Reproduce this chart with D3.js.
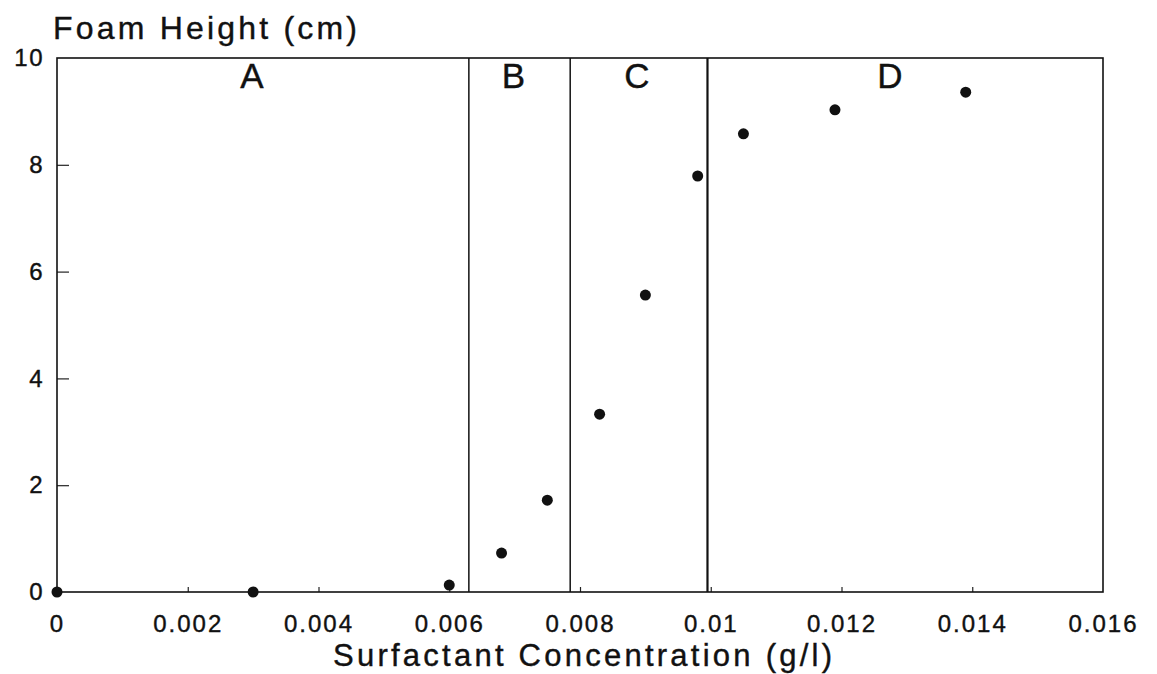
<!DOCTYPE html>
<html>
<head>
<meta charset="utf-8">
<script src="https://cdn.jsdelivr.net/npm/d3@7"></script>
<style>
  html, body { margin: 0; padding: 0; background: #fff; }
  text { font-family: "Liberation Sans", Arial, Helvetica, sans-serif; fill: #111; stroke: #111; stroke-width: 0.4; }
</style>
</head>
<body>
<div id="viz-container"></div>
<script>
// values
const concentration = [0, 0.003, 0.006, 0.0068, 0.0075, 0.0083, 0.009, 0.0098, 0.0105, 0.0119, 0.0139];
const foamHeight = [0, 0, 0.13, 0.73, 1.72, 3.33, 5.56, 7.79, 8.58, 9.03, 9.36];
const regionBounds = [0.0063, 0.00785, 0.00995];
const regionLabels = ['A', 'B', 'C', 'D'];
const regionLabelPos = [0.00298, 0.00698, 0.00887, 0.01274];
const xTicks = [0, 0.002, 0.004, 0.006, 0.008, 0.01, 0.012, 0.014, 0.016];
const xTickLabels = ['0', '0.002', '0.004', '0.006', '0.008', '0.01', '0.012', '0.014', '0.016'];
const yTicks = [0, 2, 4, 6, 8, 10];

// set the dimensions and margins of the graph
const margin = {top: 58, right: 54, bottom: 82, left: 57};
const width = 1157 - margin.left - margin.right;
const height = 674 - margin.top - margin.bottom;

const svg = d3.select('#viz-container')
  .append('svg')
  .attr('width', 1157)
  .attr('height', 674)
  .append('g')
  .attr('transform', `translate(${margin.left},${margin.top})`);

const x = d3.scaleLinear().domain([0, 0.016]).range([0, width]);
const y = d3.scaleLinear().domain([0, 10]).range([height, 0]);

// x axis: short inward ticks, labels below
const xAxis = svg.append('g')
  .attr('transform', `translate(0,${height})`)
  .call(d3.axisBottom(x).tickValues(xTicks).tickSizeInner(-5).tickSizeOuter(0)
    .tickPadding(23).tickFormat((d, i) => xTickLabels[i]));
xAxis.select('.domain').remove();
xAxis.selectAll('line').attr('stroke', '#222').attr('stroke-width', 1.2)
  .filter(d => d === 0 || d === 0.016).remove();
xAxis.selectAll('text')
  .attr('font-size', 24)
  .attr('letter-spacing', 2)
  .style('font-family', '"Liberation Sans", Arial, sans-serif');

// y axis: inward ticks, labels on the left
const yAxis = svg.append('g')
  .call(d3.axisLeft(y).tickValues(yTicks).tickSizeInner(-12).tickSizeOuter(0)
    .tickPadding(13).tickFormat(d3.format('d')));
yAxis.select('.domain').remove();
yAxis.selectAll('line').attr('stroke', '#222').attr('stroke-width', 1.2)
  .filter(d => d === 0 || d === 10).remove();
yAxis.selectAll('text')
  .attr('font-size', 24)
  .attr('letter-spacing', 1.5)
  .style('font-family', '"Liberation Sans", Arial, sans-serif');

// frame
svg.append('rect')
  .attr('x', 0)
  .attr('y', 0)
  .attr('width', width)
  .attr('height', height)
  .attr('fill', 'none')
  .attr('stroke', '#111')
  .attr('stroke-width', 1.6);

// region boundaries
svg.selectAll('.bound')
  .data(regionBounds)
  .join('line')
  .attr('class', 'bound')
  .attr('x1', d => x(d))
  .attr('x2', d => x(d))
  .attr('y1', 0)
  .attr('y2', height)
  .attr('stroke', '#111')
  .attr('stroke-width', (d, i) => i === 2 ? 2.2 : 1.5);

// region letters
svg.selectAll('.region')
  .data(regionLabels)
  .join('text')
  .attr('class', 'region')
  .attr('x', (d, i) => x(regionLabelPos[i]))
  .attr('y', 30)
  .attr('text-anchor', 'middle')
  .attr('font-size', 35)
  .text(d => d);

// data points
svg.selectAll('.pt')
  .data(concentration)
  .join('circle')
  .attr('class', 'pt')
  .attr('cx', d => x(d))
  .attr('cy', (d, i) => y(foamHeight[i]))
  .attr('r', 5.5)
  .attr('fill', '#111');

// axis titles
svg.append('text')
  .attr('x', -4)
  .attr('y', -19)
  .attr('font-size', 32)
  .attr('textLength', 304)
  .attr('lengthAdjust', 'spacing')
  .text('Foam Height (cm)');

svg.append('text')
  .attr('x', 276)
  .attr('y', height + 74)
  .attr('font-size', 31)
  .attr('textLength', 499)
  .attr('lengthAdjust', 'spacing')
  .text('Surfactant Concentration (g/l)');
</script>
</body>
</html>
